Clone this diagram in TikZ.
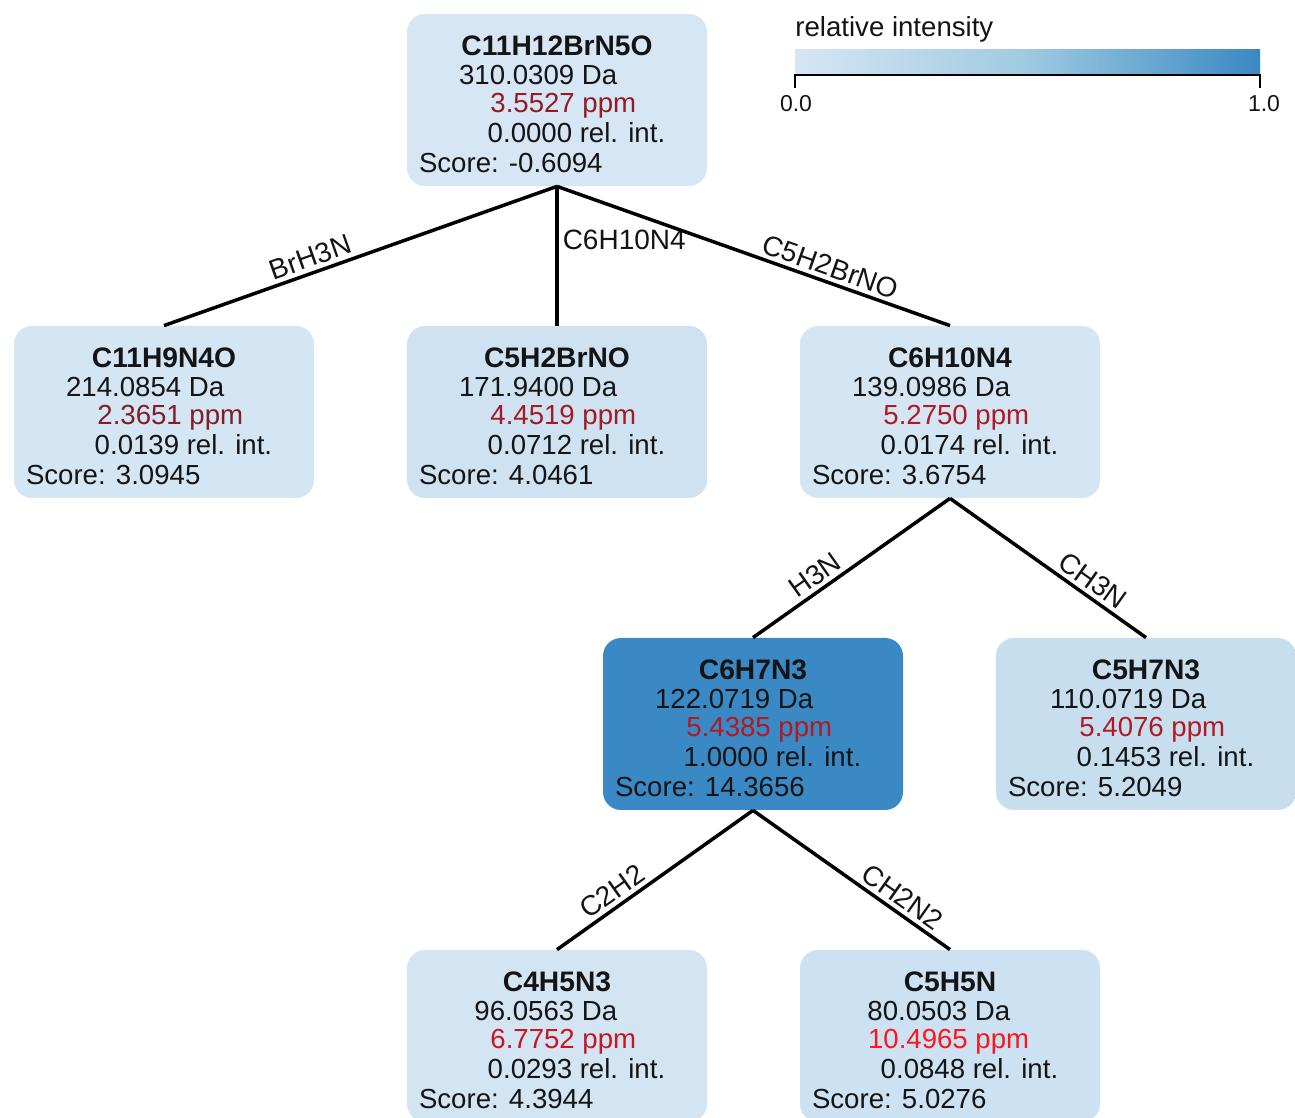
\documentclass[tikz,border=0pt]{standalone}
\usepackage{fontspec}
\setmainfont{Liberation Sans}
\usetikzlibrary{positioning}

\definecolor{rello}{RGB}{214,230,244}
\definecolor{relmid}{RGB}{158,202,225}
\definecolor{relhi}{RGB}{58,136,196}
\definecolor{ppmlo}{RGB}{125,28,38}
\definecolor{ppmhi}{RGB}{255,20,30}
\definecolor{textdark}{RGB}{20,20,20}

\begin{document}
\begin{tikzpicture}[x=0.5pt, y=0.5pt,
    fragbox/.style={rectangle, rounded corners=9pt, minimum width=150pt,
                    minimum height=86pt, inner sep=0pt},
    fragtext/.style={inner sep=0pt, font=\fontsize{13.8}{16}\selectfont, text=textdark},
    fragtitle/.style={inner sep=0pt, font=\fontsize{14.1}{16}\selectfont\bfseries, text=textdark},
    loss/.style={line width=1.75pt, black},
    losslabel/.style={inner sep=2pt, font=\fontsize{14}{16}\selectfont, text=textdark}]

  \useasboundingbox (0,0) rectangle (1295,1118);

  % Fragment boxes
  \foreach \name/\px/\py/\boxfill/\formula/\mass/\ppm/\ppmpct/\rel/\score in {
      root/557/1018/rello/C11H12BrN5O/310.0309/3.5527/18/0.0000/-0.6094,
      c11h9/164/706/relmid!3!rello/C11H9N4O/214.0854/2.3651/4/0.0139/3.0945,
      c5h2/557/706/relmid!14!rello/C5H2BrNO/171.9400/4.4519/29/0.0712/4.0461,
      c6h10/950/706/relmid!3!rello/C6H10N4/139.0986/5.2750/39/0.0174/3.6754,
      c6h7/753/394/relhi/C6H7N3/122.0719/5.4385/40/1.0000/14.3656,
      c5h7/1146/394/relmid!29!rello/C5H7N3/110.0719/5.4076/40/0.1453/5.2049,
      c4h5/557/82/relmid!6!rello/C4H5N3/96.0563/6.7752/56/0.0293/4.3944,
      c5h5/950/82/relmid!17!rello/C5H5N/80.0503/10.4965/100/0.0848/5.0276} {
    \node[fragbox, fill=\boxfill] (\name) at (\px,\py) {};
    \node[fragtitle, anchor=base] at ([yshift=-21pt]\name.north) {\formula};
    \node[fragtext, anchor=base east] at ([xshift=105.5pt, yshift=-35.5pt]\name.north west) {\mass\ Da};
    \node[fragtext, anchor=base east, text=ppmhi!\ppmpct!ppmlo]
      at ([xshift=115pt, yshift=-49.5pt]\name.north west) {\ppm\ ppm};
    \node[fragtext, anchor=base east] at ([xshift=129.5pt, yshift=-64.5pt]\name.north west) {\rel\ rel. int.};
    \node[fragtext, anchor=base west] at ([xshift=6pt, yshift=-79.5pt]\name.north west) {Score: \score};
  }

  % Neutral losses
  \draw[loss] (root.south) -- (c11h9.north)
    node[losslabel, sloped, pos=0.5, anchor=south east] {BrH3N};
  \draw[loss] (root.south) -- (c5h2.north)
    node[losslabel, pos=0.5, anchor=south west] {C6H10N4};
  \draw[loss] (root.south) -- (c6h10.north)
    node[losslabel, sloped, pos=0.5, anchor=south west] {C5H2BrNO};
  \draw[loss] (c6h10.south) -- (c6h7.north)
    node[losslabel, sloped, pos=0.5, anchor=south east] {H3N};
  \draw[loss] (c6h10.south) -- (c5h7.north)
    node[losslabel, sloped, pos=0.5, anchor=south west] {CH3N};
  \draw[loss] (c6h7.south) -- (c4h5.north)
    node[losslabel, sloped, pos=0.5, anchor=south east] {C2H2};
  \draw[loss] (c6h7.south) -- (c5h5.north)
    node[losslabel, sloped, pos=0.5, anchor=south west] {CH2N2};

  % Colour bar
  \node[fragtext, anchor=base west] (bartitle) at (795,1081) {relative intensity};
  \shade[left color=rello, right color=relhi, middle color=relmid]
    (795,1043) rectangle (1260,1068);
  \draw[line width=1.1pt] (795,1030) -- (795,1043) -- (1260,1043) -- (1260,1030);
  \node[inner sep=0pt, anchor=base, font=\fontsize{11.5}{13}\selectfont, text=textdark]
    (barmin) at (796,1006) {0.0};
  \node[inner sep=0pt, anchor=base, font=\fontsize{11.5}{13}\selectfont, text=textdark]
    (barmax) at (1264,1006) {1.0};
\end{tikzpicture}
\end{document}
